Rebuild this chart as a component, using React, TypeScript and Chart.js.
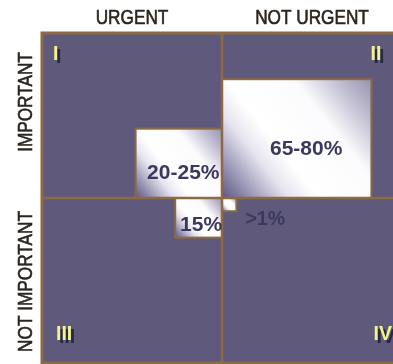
import { useEffect, useRef } from 'react';
import { Chart, registerables } from 'chart.js';

Chart.register(...registerables);

// ---- data ----
const columnLabels = ['URGENT', 'NOT URGENT'];
const rowLabels = ['IMPORTANT', 'NOT IMPORTANT'];
const quadrantNumerals = ['I', 'II', 'III', 'IV'];
const boxLabels = ['20-25%', '65-80%', '15%', '>1%'];
const boxXStart = [0.52, 1, 0.74, 1];
const boxXEnd = [1, 1.83, 1, 1.08];
const boxYStart = [1, 1, 0.76, 0.92];
const boxYEnd = [1.42, 1.72, 1, 1];

// ---- styling / layout ----
const BG = '#5f5a7b';
const BROWN = '#8d6a43';
const YELLOW = '#f4f28c';
const SHADOW = '#262848';
const LABEL = '#3b385e';
const HEAD = '#2b2520';
// numeral positions: [quadrant x value, quadrant y value, dx px, dy px]
const numeralPos: [number, number, number, number][] = [
  [0, 2, 11, 27],
  [2, 2, -31.5, 27],
  [0, 0, 14, -23],
  [2, 0, -28.5, -23],
];
// label offsets relative to box center (baseline)
const labelOffset: [number, number, string][] = [
  [4.5, 16, 'center'],
  [9.5, 16, 'center'],
  [2.5, 13, 'center'],
  [0, 20, 'right-of'],
];
const rowOffset = [-13.5, 1];

const matrixPlugin = {
  id: 'matrix',
  afterDraw(chart: any) {
    const { ctx } = chart;
    const xs = chart.scales.x;
    const ys = chart.scales.y;
    const px = (v: number) => xs.getPixelForValue(v);
    const py = (v: number) => ys.getPixelForValue(v);
    ctx.save();

    // background
    ctx.fillStyle = BG;
    ctx.fillRect(px(0), py(2), px(2) - px(0), py(0) - py(2));

    // boxes
    boxLabels.forEach((_, i) => {
      const x0 = px(boxXStart[i]);
      const x1 = px(boxXEnd[i]);
      const y0 = py(boxYEnd[i]);
      const y1 = py(boxYStart[i]);
      const g = ctx.createLinearGradient(x0, y1, x1, y0);
      g.addColorStop(0, '#5c5781');
      g.addColorStop(0.1, '#8c88ab');
      g.addColorStop(0.28, '#e6e5ef');
      g.addColorStop(0.4, '#ffffff');
      g.addColorStop(0.68, '#fbfbfd');
      g.addColorStop(0.86, '#c0bdd0');
      g.addColorStop(1, '#9693ae');
      ctx.fillStyle = g;
      ctx.fillRect(x0, y0, x1 - x0, y1 - y0);
      ctx.strokeStyle = BROWN;
      ctx.lineWidth = 2;
      ctx.strokeRect(x0, y0, x1 - x0, y1 - y0);
    });

    // dividers and frame
    ctx.strokeStyle = BROWN;
    ctx.lineWidth = 2.5;
    ctx.beginPath();
    ctx.moveTo(px(1), py(0));
    ctx.lineTo(px(1), py(2));
    ctx.moveTo(px(0), py(1));
    ctx.lineTo(px(2), py(1));
    ctx.stroke();
    ctx.lineWidth = 3;
    ctx.strokeRect(px(0), py(2), px(2) - px(0), py(0) - py(2));

    // box labels
    ctx.fillStyle = LABEL;
    ctx.textBaseline = 'alphabetic';
    boxLabels.forEach((lab, i) => {
      const x0 = px(boxXStart[i]);
      const x1 = px(boxXEnd[i]);
      const y0 = py(boxYEnd[i]);
      const y1 = py(boxYStart[i]);
      const cx = (x0 + x1) / 2;
      const cy = (y0 + y1) / 2;
      const [dx, dy, mode] = labelOffset[i];
      if (mode === 'right-of') {
        ctx.font = 'bold 19.5px "Liberation Sans", Arial, sans-serif';
        ctx.textAlign = 'left';
        ctx.fillText(lab, x1 + 9, cy + dy);
      } else {
        ctx.font = 'bold 21px "Liberation Sans", Arial, sans-serif';
        ctx.textAlign = 'center';
        ctx.fillText(lab, cx + dx, cy + dy);
      }
    });

    // numerals
    ctx.font = 'bold 19.5px "Liberation Sans", Arial, sans-serif';
    ctx.textAlign = 'left';
    quadrantNumerals.forEach((n, i) => {
      const [qx, qy, dx, dy] = numeralPos[i];
      const x = px(qx) + dx;
      const y = py(qy) + dy;
      ctx.fillStyle = SHADOW;
      ctx.fillText(n, x + 3, y + 3);
      ctx.fillStyle = YELLOW;
      ctx.fillText(n, x, y);
    });

    // headers
    ctx.fillStyle = HEAD;
    ctx.strokeStyle = HEAD;
    ctx.lineWidth = 0.6;
    ctx.font = '20px "Liberation Sans", Arial, sans-serif';
    ctx.textAlign = 'center';
    columnLabels.forEach((lab, i) => {
      ctx.save();
      ctx.translate(px(i + 0.5), 24);
      ctx.scale(0.86, 1);
      ctx.fillText(lab, 0, 0);
      ctx.strokeText(lab, 0, 0);
      ctx.restore();
    });
    rowLabels.forEach((lab, i) => {
      ctx.save();
      ctx.translate(32, py(1.5 - i) + rowOffset[i]);
      ctx.rotate(-Math.PI / 2);
      ctx.scale(0.86, 1);
      ctx.fillText(lab, 0, 0);
      ctx.strokeText(lab, 0, 0);
      ctx.restore();
    });

    ctx.restore();
  },
};

export default function App() {
  const ref = useRef<HTMLCanvasElement>(null);
  useEffect(() => {
    if (!ref.current) return;
    const chart = new Chart(ref.current, {
      type: 'scatter',
      data: { datasets: [{ data: [] }] },
      options: {
        animation: false,
        responsive: false,
        events: [],
        layout: { padding: { left: 42, top: 33, right: 3, bottom: 1 } },
        plugins: { legend: { display: false }, tooltip: { enabled: false } },
        scales: {
          x: { type: 'linear', min: 0, max: 2, display: false },
          y: { type: 'linear', min: 0, max: 2, display: false },
        },
      },
      plugins: [matrixPlugin],
    });
    return () => chart.destroy();
  }, []);
  return (
    <div style={{ position: 'fixed', left: 0, top: 0, width: 393, height: 364, overflow: 'hidden', background: '#fff' }}>
      <canvas ref={ref} width={405} height={364} style={{ width: 405, height: 364, display: 'block' }} />
    </div>
  );
}
